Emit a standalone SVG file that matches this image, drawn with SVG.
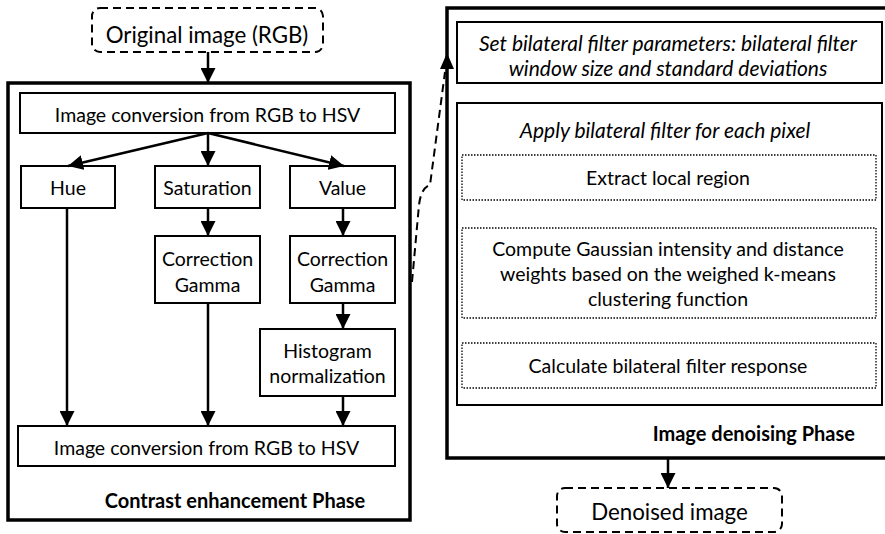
<svg xmlns="http://www.w3.org/2000/svg" width="885" height="534" viewBox="0 0 885 534">
<style>
text{font-family:Lato,"Liberation Sans",sans-serif;font-size:19.5px;fill:#000;text-anchor:middle}
.r{font-size:19.5px}
.i{font-style:italic;font-size:21px}
.b{font-weight:bold;font-size:20px}
.big{font-size:22.3px}
.box{fill:#fff;stroke:#000;stroke-width:2}
.outer{fill:none;stroke:#000;stroke-width:3.5}
.dot{fill:none;stroke:#000;stroke-width:1.3;stroke-dasharray:1.5 1.5}
.dash{fill:none;stroke:#000;stroke-width:2;stroke-dasharray:8 5}
.ln{fill:none;stroke:#000;stroke-width:2.5}
</style>
<defs>
<marker id="ah" viewBox="0 0 10 10" refX="10" refY="5" markerWidth="6" markerHeight="6" markerUnits="strokeWidth" orient="auto">
<path d="M0,0 L10,5 L0,10 z" fill="#000"/>
</marker>
</defs>
<g id="original"><rect class="dash" x="92" y="8" width="231" height="44" rx="8"/><text class="big" x="207" y="43">Original image (RGB)</text></g>
<g id="contrast-phase"><rect class="outer" x="8" y="83" width="402" height="437"/><text class="b" x="235" y="508">Contrast enhancement Phase</text></g>
<g id="conv1"><rect class="box" x="20" y="93" width="375" height="40"/><text x="207.5" y="122">Image conversion from RGB to HSV</text></g>
<g id="hue"><rect class="box" x="21" y="166" width="94" height="42"/><text x="68" y="195">Hue</text></g>
<g id="sat"><rect class="box" x="155" y="166" width="105" height="42"/><text x="207.5" y="195">Saturation</text></g>
<g id="val"><rect class="box" x="290" y="166" width="105" height="42"/><text x="342.5" y="195">Value</text></g>
<g id="gamma-s"><rect class="box" x="155" y="236" width="105" height="67"/><text x="207.5" y="266">Correction</text><text x="207.5" y="292">Gamma</text></g>
<g id="gamma-v"><rect class="box" x="290" y="236" width="105" height="67"/><text x="342.5" y="266">Correction</text><text x="342.5" y="292">Gamma</text></g>
<g id="hist"><rect class="box" x="260" y="329" width="135" height="67"/><text x="327.5" y="358">Histogram</text><text x="327.5" y="383">normalization</text></g>
<g id="conv2"><rect class="box" x="18" y="426" width="377" height="40"/><text x="206.5" y="455">Image conversion from RGB to HSV</text></g>
<g id="denoise-phase"><rect class="outer" x="447" y="8" width="445" height="450"/><text class="b" x="855" y="441" style="text-anchor:end">Image denoising Phase</text></g>
<g id="setparams"><rect class="box" x="457" y="22" width="425" height="61"/><text class="i" x="668" y="51">Set bilateral filter parameters: bilateral filter</text><text class="i" x="668" y="76">window size and standard deviations</text></g>
<g id="apply"><rect class="box" x="457" y="103" width="425" height="302"/><text class="i" x="665" y="138">Apply bilateral filter for each pixel</text></g>
<g id="extract"><rect class="dot" x="462" y="155" width="414" height="45"/><text class="r" x="668" y="185">Extract local region</text></g>
<g id="compute"><rect class="dot" x="462" y="228" width="414" height="90"/><text class="r" x="668" y="256">Compute Gaussian intensity and distance</text><text class="r" x="668" y="281">weights based on the weighed k-means</text><text class="r" x="668" y="306">clustering function</text></g>
<g id="calc"><rect class="dot" x="462" y="343" width="414" height="45"/><text class="r" x="668" y="373">Calculate bilateral filter response</text></g>
<g id="denoised"><rect class="dash" x="557" y="488" width="225" height="44" rx="8"/><text class="big" x="669.5" y="520">Denoised image</text></g>
<g id="connectors">
<line class="ln" x1="208" y1="52" x2="208" y2="83" marker-end="url(#ah)"/>
<line class="ln" x1="208" y1="133" x2="68" y2="166" marker-end="url(#ah)"/>
<line class="ln" x1="208" y1="133" x2="208" y2="166" marker-end="url(#ah)"/>
<line class="ln" x1="208" y1="133" x2="344" y2="166" marker-end="url(#ah)"/>
<line class="ln" x1="208" y1="208" x2="208" y2="236" marker-end="url(#ah)"/>
<line class="ln" x1="343" y1="208" x2="343" y2="236" marker-end="url(#ah)"/>
<line class="ln" x1="343" y1="303" x2="343" y2="329" marker-end="url(#ah)"/>
<line class="ln" x1="67" y1="208" x2="67" y2="426" marker-end="url(#ah)"/>
<line class="ln" x1="208" y1="303" x2="208" y2="426" marker-end="url(#ah)"/>
<line class="ln" x1="343" y1="396" x2="343" y2="426" marker-end="url(#ah)"/>
<path class="dash" d="M412 282 L419 205 Q421 188 430 185 L445 72"/>
<path d="M447 53 L440 69 L454 69 z" fill="#000"/>
<line class="ln" x1="668" y1="459" x2="668" y2="488" marker-end="url(#ah)"/>
</g>
</svg>
